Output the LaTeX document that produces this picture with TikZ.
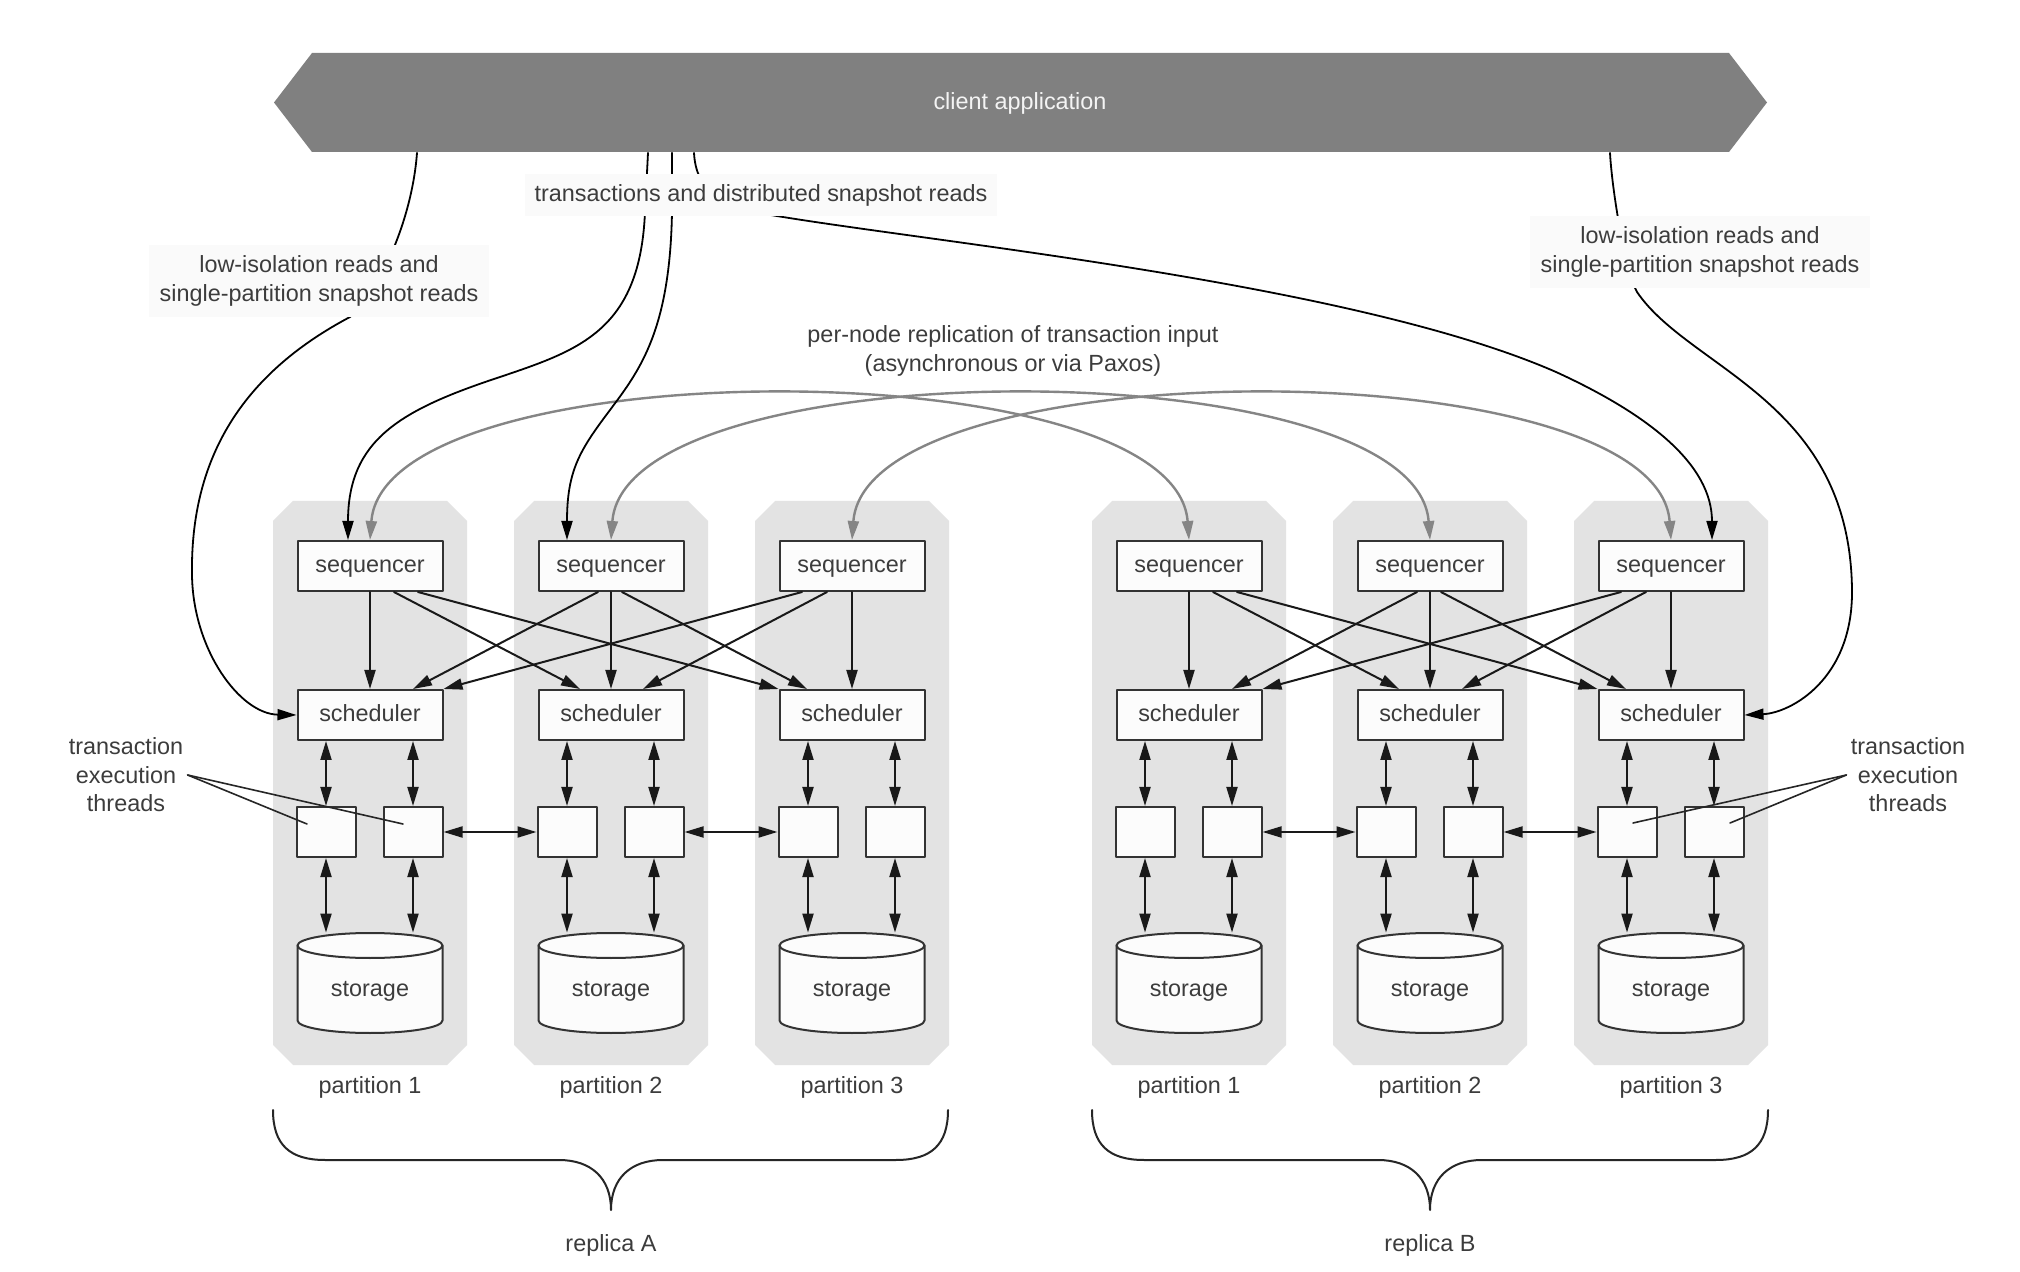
\documentclass[tikz,border=0pt]{standalone}
\usepackage{fontspec}
\setmainfont{Liberation Sans}
\usetikzlibrary{calc,arrows.meta}

\definecolor{partgray}{HTML}{E3E3E3}
\definecolor{boxfill}{HTML}{FCFCFC}
\definecolor{boxline}{HTML}{333333}
\definecolor{txtgray}{HTML}{3C3C3C}
\definecolor{bannergray}{HTML}{808080}
\definecolor{bannertxt}{HTML}{F4F4F4}
\definecolor{arcgray}{HTML}{858585}
\definecolor{lblbg}{HTML}{FAFAFA}

\begin{document}
\begin{tikzpicture}[x=0.5pt, y=-0.5pt, >={Triangle[length=9.5pt,width=5.5pt]},
  line cap=round, line join=round, font=\fontsize{11.7}{14.2}\selectfont,
  box/.style={draw=boxline, fill=boxfill, line width=1pt, text=txtgray,
    minimum width=72.5pt, minimum height=25pt, inner sep=0pt,
    text height=8.5pt, text depth=2pt},
  thread/.style={box, minimum width=29.5pt},
  lbl/.style={text=txtgray, align=center, inner sep=5.5pt},
  link/.style={->, line width=1pt, black!90},
  dlink/.style={<->, line width=1pt, black!90},
  reparc/.style={<->, line width=1.2pt, arcgray},
  req/.style={->, line width=0.9pt, black},
  pointer/.style={line width=0.8pt, black!85}]

  % ===== 枠 =====
  \fill[white] (0,0) rectangle (2020,1272);
  \useasboundingbox (0,0) rectangle (2020,1272);

  % ===== client application =====
  \fill[bannergray] (312,53) -- (1729,53) -- (1767,102.5) -- (1729,152)
    -- (312,152) -- (274,102.5) -- cycle;
  \node[text=bannertxt, minimum width=708.5pt, minimum height=49.5pt,
    text height=8.5pt, text depth=2pt]
    (client) at (1020,103) {client application};

  % ===== partitions =====
  \foreach \r/\cx/\n in {A1/370/1, A2/611/2, A3/852/3,
                         B1/1189/1, B2/1430/2, B3/1671/3} {
    % ---- 背景 ----
    \fill[partgray] (\cx-77,501) -- (\cx+77,501) -- (\cx+97,521)
      -- (\cx+97,1045) -- (\cx+77,1065) -- (\cx-77,1065)
      -- (\cx-97,1045) -- (\cx-97,521) -- cycle;

    \node[box] (seq\r) at (\cx,566) {sequencer};
    \node[box] (sch\r) at (\cx,715) {scheduler};
    \node[thread] (thl\r) at (\cx-44,832) {};
    \node[thread] (thr\r) at (\cx+43,832) {};

    % ---- storage ----
    \filldraw[fill=boxfill, draw=boxline, line width=1pt]
      (\cx-72.5,945.5) -- (\cx-72.5,1020.5)
      arc[start angle=180, end angle=360, x radius=36.25pt, y radius=6.25pt]
      -- (\cx+72.5,945.5)
      arc[start angle=0, end angle=180, x radius=36.25pt, y radius=6.25pt]
      -- cycle;
    \draw[boxline, line width=1pt] (\cx-72.5,945.5)
      arc[start angle=180, end angle=360, x radius=36.25pt, y radius=6.25pt];
    \node[lbl, inner sep=0pt, minimum width=72.5pt, minimum height=57pt,
      text height=8.5pt, text depth=2pt]
      (sto\r) at (\cx,990) {storage};

    \node[lbl] (par\r) at (\cx,1087) {partition \n};

    % ---- scheduler / threads / storage ----
    \draw[dlink] (sch\r.south -| thl\r.north) -- (thl\r.north);
    \draw[dlink] (sch\r.south -| thr\r.north) -- (thr\r.north);
    \draw[dlink] (thl\r.south) -- (thl\r.south |- sto\r.north);
    \draw[dlink] (thr\r.south) -- (thr\r.south |- sto\r.north);
  }

  % ===== sequencer -> scheduler =====
  \foreach \R in {A,B} {
    \draw[link] (seq\R1.south) -- (sch\R1.north);
    \draw[link] (seq\R2.south) -- (sch\R2.north);
    \draw[link] (seq\R3.south) -- (sch\R3.north);
    \draw[link] ($(seq\R1.south)+(24,0)$) -- ($(sch\R2.north)+(-31,0)$);
    \draw[link] ($(seq\R1.south)+(48,0)$) -- (sch\R3.north west);
    \draw[link] ($(seq\R2.south)+(-13,0)$) -- ($(sch\R1.north)+(43,0)$);
    \draw[link] ($(seq\R2.south)+(11,0)$) -- ($(sch\R3.north)+(-45,0)$);
    \draw[link] ($(seq\R3.south)+(-50,0)$) -- (sch\R1.north east);
    \draw[link] ($(seq\R3.south)+(-25,0)$) -- ($(sch\R2.north)+(32,0)$);
  }

  % ===== threads 間 =====
  \draw[dlink] (thrA1) -- (thlA2);
  \draw[dlink] (thrA2) -- (thlA3);
  \draw[dlink] (thrB1) -- (thlB2);
  \draw[dlink] (thrB2) -- (thlB3);

  % ===== replication =====
  \foreach \n in {1,2,3}
    \draw[reparc] (seqA\n.north) .. controls +(14,-192) and +(-14,-192)
      .. (seqB\n.north);

  % ===== client からの線 =====
  \draw[req] ($(client.south)+(-603,0)$) .. controls (412,220) and (380,290)
    .. (350,317) .. controls (250,370) and (190,450) .. (192,575)
    .. controls (193,650) and (240,714) .. (schA1.west);

  \draw[req] ($(client.south)+(590,0)$) .. controls (1612,190) and (1625,270)
    .. (1637,292) .. controls (1690,370) and (1850,400) .. (1852,590)
    .. controls (1853,680) and (1790,713) .. (schB3.east);

  \draw[req] ($(client.south)+(-372,0)$) -- (645,212)
    .. controls (640,330) and (580,350) .. (500,377)
    .. controls (400,410) and (348,440) .. ($(seqA1.north)+(-22,0)$);

  \draw[req] ($(client.south)+(-348,0)$) -- (672,212)
    .. controls (670,330) and (640,370) .. (610,410)
    .. controls (580,450) and (567,470) .. ($(seqA2.north)+(-44,0)$);

  \draw[req] ($(client.south)+(-326,0)$) .. controls (696,190) and (720,205)
    .. (754,212) .. controls (904,240) and (1346,280) .. (1556,372)
    .. controls (1650,415) and (1712,465) .. ($(seqB3.north)+(41,0)$);

  % ===== ラベル =====
  \node[lbl, fill=lblbg] (lowA) at (319,281)
    {low-isolation reads and\\single-partition snapshot reads};
  \node[lbl, fill=lblbg] (lowB) at (1700,252)
    {low-isolation reads and\\single-partition snapshot reads};
  \node[lbl, fill=lblbg, inner sep=5pt] (txn) at (761,195)
    {transactions and distributed snapshot reads};
  \node[lbl] (repl) at (1013,351)
    {per-node replication of transaction input\\(asynchronous or via Paxos)};

  \node[lbl, inner sep=2pt] (thlabA) at (126,775)
    {transaction\\execution\\threads};
  \node[lbl, inner sep=2pt] (thlabB) at (1908,775)
    {transaction\\execution\\threads};
  \draw[pointer] (thlabA.east) -- ($(thlA1)+(-19,-8)$);
  \draw[pointer] (thlabA.east) -- ($(thrA1)+(-10,-8)$);
  \draw[pointer] (thlabB.west) -- ($(thlB3)+(6,-9)$);
  \draw[pointer] (thlabB.west) -- ($(thrB3)+(16,-9)$);

  % ===== replica =====
  \foreach \l/\m/\rr in {273/611/948, 1092/1430/1768}
    \draw[line width=1pt, black!85] (\l,1110) .. controls (\l,1145) and (\l+17,1160)
      .. (\l+52,1160) -- (\m-52,1160) .. controls (\m-20,1160) and (\m,1178)
      .. (\m,1210) .. controls (\m,1178) and (\m+20,1160) .. (\m+52,1160)
      -- (\rr-52,1160) .. controls (\rr-17,1160) and (\rr,1145) .. (\rr,1110);

  \node[lbl] (repA) at (611,1245) {replica A};
  \node[lbl] (repB) at (1430,1245) {replica B};

\end{tikzpicture}
\end{document}
